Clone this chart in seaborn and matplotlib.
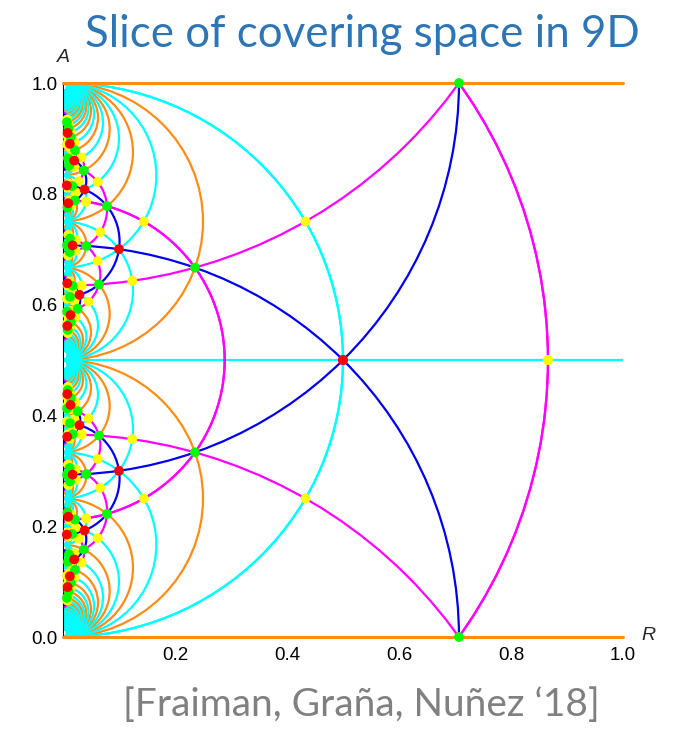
import matplotlib
matplotlib.use("Agg")
import matplotlib.pyplot as plt
from matplotlib.patches import Arc
from matplotlib.ticker import MultipleLocator
import pandas as pd
import seaborn as sns

# ---------------- data (lower half, A <= 0.5; the picture is mirror symmetric about A = 0.5) ----------------
# straight geodesics (horizontal lines A = const)
ORANGE_LINES = [0.0, 1.0]
CYAN_LINES = [0.5]

# fan of arcs leaving the cusp A = 0 : arc from 0 to 1/k
FAN0_ORANGE_K = [2, 4, 6, 8, 10, 12, 14, 16, 18, 20, 22, 24, 26, 28, 30, 32, 34, 36,
                 38, 40, 42, 44, 46, 48, 50, 52, 54, 56, 58, 60, 62, 64, 66, 68, 70]
FAN0_CYAN_K = [1, 3, 5, 7, 9, 11, 13, 15, 17, 19, 21, 23, 25, 27, 29, 31, 33, 35,
               37, 39, 41, 43, 45, 47, 49, 51, 53, 55, 57, 59, 61, 63, 65, 67, 69]

# fan of arcs leaving the cusp A = 1/2 : arc from the listed end to 1/2
FAN_HALF_ORANGE = [1/3, 2/5, 3/7, 4/9, 5/11, 6/13, 7/15, 8/17, 9/19, 10/21,
                   11/23, 12/25, 13/27, 14/29]
FAN_HALF_CYAN = [1/4, 3/8, 5/12, 7/16, 9/20, 11/24, 13/28, 15/32, 17/36, 19/40,
                 21/44, 23/48, 25/52, 27/56, 29/60]

# other arcs, given by their two end points on the A axis
ORANGE_ARCS = [
    (1/4, 1/3), (1/3, 3/8), (3/10, 1/3), (1/3, 5/14), (5/16, 1/3), (1/3, 7/20),
    (7/22, 1/3), (1/3, 9/26), (9/28, 1/3),
    (1/5, 1/4), (2/9, 1/4), (3/13, 1/4), (4/17, 1/4), (5/21, 1/4),
    (1/4, 2/7), (1/4, 3/11), (1/4, 4/15), (1/4, 5/19), (1/4, 6/23),
    (1/6, 1/5), (3/16, 1/5), (1/5, 3/14),
    (3/8, 2/5), (2/5, 5/12), (7/18, 2/5),
    (1/7, 1/6), (1/6, 2/11), (2/13, 1/6),
    (1/8, 1/7), (2/15, 1/7), (1/9, 1/8), (1/10, 1/9), (1/11, 1/10),
    (4/11, 3/8), (3/8, 5/13), (2/7, 3/10), (3/10, 4/13), (3/14, 2/9),
    (5/12, 3/7), (3/7, 7/16), (7/16, 4/9),
]
CYAN_ARCS = [
    (1/3, 2/5), (2/7, 1/3), (1/3, 4/11), (4/13, 1/3), (1/3, 6/17), (6/19, 1/3),
    (1/3, 8/23), (8/25, 1/3), (1/3, 10/29), (10/31, 1/3),
    (1/6, 1/4), (1/4, 3/10), (3/14, 1/4), (1/4, 5/18), (5/22, 1/4), (1/4, 7/26),
    (7/30, 1/4), (1/4, 9/34), (9/38, 1/4),
    (2/11, 1/5), (1/5, 2/9), (1/5, 4/19),
    (5/13, 2/5), (2/5, 3/7), (2/5, 7/17),
    (1/8, 1/6), (1/6, 3/16), (3/20, 1/6), (1/6, 5/28),
    (1/7, 2/13), (1/10, 1/8), (1/8, 3/22), (5/14, 3/8), (3/8, 7/18),
    (3/10, 5/16), (3/11, 2/7), (2/9, 3/13), (3/7, 4/9), (1/12, 1/10),
    (4/9, 5/11), (1/9, 2/17),
]
MAGENTA_ARCS = [
    (-0.3660, 1.3660), (-1.3660, 0.3660), (0.2113, 0.7887), (0.1485, 0.3060),
    (0.1145, 0.1898), (0.0932, 0.1376), (0.0785, 0.1079), (0.0679, 0.0888),
    (0.0598, 0.0754), (0.0534, 0.0655), (0.2795, 0.4128), (0.3829, 0.4353),
    (0.4202, 0.4486), (0.4395, 0.4574), (0.4513, 0.4636), (0.3539, 0.3908),
    (0.2906, 0.3150), (0.3484, 0.3616), (0.3092, 0.3196), (0.1793, 0.2261),
    (0.2168, 0.2327), (0.2701, 0.2952), (0.2652, 0.2762), (0.1320, 0.1557),
    (0.4078, 0.4240), (0.2072, 0.2193), (0.1044, 0.1187), (0.1754, 0.1856),
]
BLUE_ARCS = [
    (-0.7071, 0.7071), (0.1847, 0.3867), (0.1349, 0.2181), (0.1062, 0.1518),
    (0.0876, 0.1165), (0.0746, 0.0945), (0.0649, 0.0795), (0.0574, 0.0686),
    (0.3606, 0.4221), (0.4105, 0.4406), (0.4341, 0.4520), (0.4478, 0.4597),
    (0.2754, 0.3099), (0.3516, 0.3675), (0.3050, 0.3169), (0.2095, 0.2289),
    (0.2681, 0.2806), (0.1776, 0.1913), (0.3817, 0.3920), (0.1476, 0.1570),
]

# special points (R, A)
GREEN_PTS = [
    (0.7071, 0.0), (0.2357, 0.3333), (0.0786, 0.2222), (0.0372, 0.1579),
    (0.0214, 0.1212), (0.0139, 0.0980), (0.0097, 0.0822), (0.0071, 0.0707),
    (0.0643, 0.3636), (0.0262, 0.4074), (0.0139, 0.4314), (0.0085, 0.4458),
    (0.0416, 0.2941), (0.0173, 0.3659), (0.0120, 0.3051), (0.0214, 0.2121),
    (0.0124, 0.2807), (0.0080, 0.2247), (0.0164, 0.1860), (0.0124, 0.3860),
    (0.0073, 0.4124), (0.0106, 0.1493), (0.0087, 0.1358), (0.0071, 0.2929),
]
RED_PTS = [
    (0.5, 0.5), (0.1, 0.3), (0.0385, 0.1923), (0.02, 0.14), (0.0122, 0.1098),
    (0.0082, 0.0902), (0.0294, 0.3824), (0.0135, 0.4189), (0.0077, 0.4385),
    (0.0172, 0.2931), (0.0077, 0.3615), (0.0094, 0.2170), (0.0069, 0.1849),
]
YELLOW_PTS = [
    (0.866, 0.5), (0.433, 0.25), (0.1443, 0.25), (0.0619, 0.1786),
    (0.0333, 0.1346), (0.0206, 0.1071), (0.0140, 0.0887), (0.0101, 0.0756),
    (0.0076, 0.0658), (0.1237, 0.3571), (0.0456, 0.3947), (0.0222, 0.4231),
    (0.0129, 0.4403), (0.0084, 0.4515), (0.0619, 0.3214), (0.0333, 0.3654),
    (0.0228, 0.3026), (0.0117, 0.3581), (0.0088, 0.3112), (0.0412, 0.2143),
    (0.0666, 0.2692), (0.0142, 0.2213), (0.0234, 0.2838), (0.0093, 0.2742),
    (0.0228, 0.1974), (0.0111, 0.2115), (0.0088, 0.1888), (0.0206, 0.3929),
    (0.0140, 0.4113), (0.0071, 0.3893), (0.0201, 0.1512), (0.0279, 0.1774),
    (0.0095, 0.1813), (0.0117, 0.1419), (0.0119, 0.1164), (0.0152, 0.1316),
    (0.0177, 0.3776), (0.0089, 0.3660), (0.0111, 0.2884), (0.0101, 0.4244),
    (0.0076, 0.4342), (0.0110, 0.2975), (0.0078, 0.0946), (0.0095, 0.1044),
    (0.0079, 0.4174), (0.0071, 0.1107),
]

ORANGE = "#FF8C14"
CYAN = "#00FFFF"
MAGENTA = "#FF00FF"
BLUE = "#0000EE"
LW = 1.6

sns.set_style("white")
plt.rcParams["font.family"] = ["Liberation Sans", "DejaVu Sans"]

fig = plt.figure(figsize=(6.84, 7.43), dpi=100)
ax = fig.add_axes([63 / 684, 106 / 743, 560 / 684, 554 / 743])
ax.set_xlim(0, 1)
ax.set_ylim(0, 1)


def geodesic(a, b, color, z):
    # semicircle orthogonal to the A axis, plus its mirror image A -> 1 - A
    for lo, hi in ((a, b), (1 - b, 1 - a)):
        c, d = (lo + hi) / 2, abs(hi - lo)
        ax.add_patch(Arc((0, c), d, d, theta1=-90, theta2=90,
                         color=color, lw=LW, zorder=z))


for a in ORANGE_LINES:
    ax.axhline(a, color=ORANGE, lw=2.2, zorder=3, clip_on=False)
for k in FAN0_ORANGE_K:
    geodesic(0, 1 / k, ORANGE, 2)
for e in FAN_HALF_ORANGE:
    geodesic(e, 0.5, ORANGE, 2)
for a, b in ORANGE_ARCS:
    geodesic(a, b, ORANGE, 2)

for a in CYAN_LINES:
    ax.axhline(a, color=CYAN, lw=LW, zorder=2.1)
for k in FAN0_CYAN_K:
    geodesic(0, 1 / k, CYAN, 2.1)
for e in FAN_HALF_CYAN:
    geodesic(e, 0.5, CYAN, 2.1)
for a, b in CYAN_ARCS:
    geodesic(a, b, CYAN, 2.1)

for a, b in MAGENTA_ARCS:
    geodesic(a, b, MAGENTA, 2.2)
for a, b in BLUE_ARCS:
    geodesic(a, b, BLUE, 2.3)

rows = []
for kind, pts in (("yellow", YELLOW_PTS), ("green", GREEN_PTS), ("red", RED_PTS)):
    for r, a in pts:
        rows.append((r, a, kind))
        rows.append((r, 1 - a, kind))
dots = pd.DataFrame(rows, columns=["R", "A", "kind"])
sns.scatterplot(data=dots, x="R", y="A", hue="kind", ax=ax,
                palette={"yellow": "#FFFF00", "green": "#00FF00", "red": "#FF0000"},
                s=50, linewidth=0, legend=False, clip_on=False, zorder=5)

# Mathematica-like axes
for side in ("top", "right"):
    ax.spines[side].set_visible(False)
for side in ("left", "bottom"):
    ax.spines[side].set_color("black")
    ax.spines[side].set_linewidth(0.8)
ax.set_xticks([0, 0.2, 0.4, 0.6, 0.8, 1.0])
ax.set_xticklabels(["", "0.2", "0.4", "0.6", "0.8", "1.0"])
ax.set_yticks([0, 0.2, 0.4, 0.6, 0.8, 1.0])
ax.set_yticklabels(["0.0", "0.2", "0.4", "0.6", "0.8", "1.0"])
ax.xaxis.set_minor_locator(MultipleLocator(0.05))
ax.yaxis.set_minor_locator(MultipleLocator(0.05))
ax.tick_params(which="major", direction="in", length=4, width=0.8, labelsize=13.5,
               color="black", labelcolor="black")
ax.tick_params(which="minor", direction="in", length=2, width=0.6, color="black")
ax.tick_params(axis="x", pad=7)
ax.tick_params(axis="y", pad=4)
ax.set_xlabel("")
ax.set_ylabel("")

fig.text(63 / 684, 1 - 57 / 743, "A", style="italic", fontsize=14, ha="center", va="center")
fig.text(648 / 684, 1 - 636 / 743, "R", style="italic", fontsize=14, ha="center", va="center")

fig.text(362 / 684, 1 - 47 / 743, "Slice of covering space in 9D", family=["Lato", "DejaVu Sans"],
         fontsize=31.6, color="#2E75B6", ha="center", va="baseline")
fig.text(600 / 684, 1 - 716 / 743, "[Fraiman, Graña, Nuñez \u201818]", family=["Lato", "DejaVu Sans"],
         fontsize=28, color="#808080", ha="right", va="baseline")

fig.savefig("out.png", dpi=100)
